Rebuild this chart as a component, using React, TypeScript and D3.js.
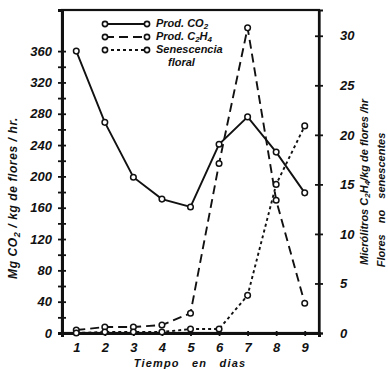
import { useEffect, useRef } from "react";
import * as d3 from "d3";

// days on the x axis
const days = [1, 2, 3, 4, 5, 6, 7, 8, 9];
// Mg CO2 / kg flores / hr (left axis)
const co2 = [360, 269, 199, 171, 161, 241, 276, 231, 179];
// microlitros C2H4 / kg flores / hr (right axis)
const c2h4 = [0.3, 0.6, 0.6, 0.8, 2.0, 17.1, 30.8, 13.4, 3.0];
// flores no senescentes (right axis)
const senescencia = [0, 0.1, 0.1, 0.1, 0.4, 0.4, 3.8, 15.0, 20.9];

const leftTicks = d3.range(0, 361, 20);
const rightTicks = [0, 5, 10, 15, 20, 25, 30];

const FONT = "'Liberation Sans', Arial, sans-serif";

export default function App() {
    const svgRef = useRef<SVGSVGElement>(null);
    const width = 388;
    const height = 370;
    const margin = { top: 10, right: 69, bottom: 37, left: 62 };

    useEffect(() => {
        const svg = d3.select(svgRef.current);
        svg.selectAll("*").remove();

        const x = d3.scaleLinear().domain([0.5, 9.5]).range([margin.left, width - margin.right]);
        const yLeft = d3.scaleLinear().domain([0, 412.5]).range([height - margin.bottom, margin.top]);
        const yRight = d3.scaleLinear().domain([0, 32.6]).range([height - margin.bottom, margin.top]);

        svg.append("rect").attr("width", width).attr("height", height).attr("fill", "#fff");

        const txt = (sel: any) =>
            sel.attr("font-family", FONT).attr("font-weight", "bold").attr("font-style", "italic").attr("fill", "#111");

        // frame
        svg.append("rect")
            .attr("x", margin.left).attr("y", margin.top)
            .attr("width", width - margin.left - margin.right)
            .attr("height", height - margin.top - margin.bottom)
            .attr("fill", "none").attr("stroke", "#111").attr("stroke-width", 2.2);

        // left axis
        const gl = svg.append("g").attr("transform", `translate(${margin.left},0)`)
            .call(d3.axisLeft(yLeft).tickValues(leftTicks).tickSize(4).tickPadding(6)
                .tickFormat((d: any) => (d % 40 === 0 ? String(d) : "")));
        gl.select(".domain").attr("stroke-width", 3).attr("stroke", "#111");
        gl.selectAll(".tick line").attr("x1", -4).attr("x2", 4).attr("stroke-width", 1.8).attr("stroke", "#111");
        gl.selectAll(".tick text").call(txt).attr("font-size", 13);

        // right axis
        const gr = svg.append("g").attr("transform", `translate(${width - margin.right},0)`)
            .call(d3.axisRight(yRight).tickValues(rightTicks).tickSize(4).tickPadding(17));
        gr.select(".domain").attr("stroke-width", 2.2).attr("stroke", "#111");
        gr.selectAll(".tick line").attr("x1", -4).attr("x2", 4).attr("stroke-width", 1.8).attr("stroke", "#111");
        gr.selectAll(".tick text").call(txt).attr("font-size", 13);

        // bottom axis
        const gb = svg.append("g").attr("transform", `translate(0,${height - margin.bottom})`)
            .call(d3.axisBottom(x).tickValues(days).tickSize(4).tickPadding(6).tickFormat(d3.format("d")));
        gb.select(".domain").attr("stroke-width", 3).attr("stroke", "#111");
        gb.selectAll(".tick line").attr("y1", -2).attr("y2", 3).attr("stroke-width", 1.8).attr("stroke", "#111");
        gb.selectAll(".tick text").call(txt).attr("font-size", 13);

        // series
        const series = [
            { values: co2, y: yLeft, dash: null },
            { values: c2h4, y: yRight, dash: "9,5" },
            { values: senescencia, y: yRight, dash: "3,3" },
        ];
        series.forEach(s => {
            const line = d3.line<number>()
                .x((_, i) => x(days[i]))
                .y(d => s.y(d));
            svg.append("path")
                .datum(s.values)
                .attr("fill", "none")
                .attr("stroke", "#111")
                .attr("stroke-width", 1.9)
                .attr("stroke-dasharray", s.dash)
                .attr("d", line);
        });
        series.forEach(s => {
            svg.append("g").selectAll("circle")
                .data(s.values)
                .enter()
                .append("circle")
                .attr("cx", (_, i) => x(days[i]))
                .attr("cy", d => s.y(d))
                .attr("r", 2.8)
                .attr("fill", "#fff")
                .attr("stroke", "#111")
                .attr("stroke-width", 1.5);
        });

        // legend
        const legend = svg.append("g");
        const rows = [
            { dash: null, label: ["Prod. CO", "2", ""] },
            { dash: "9,5", label: ["Prod. C", "2", "H", "4"] },
            { dash: "3,3", label: ["Senescencia"] },
        ];
        rows.forEach((r, i) => {
            const yy = 24 + i * 13;
            legend.append("line")
                .attr("x1", 105).attr("x2", 147).attr("y1", yy).attr("y2", yy)
                .attr("stroke", "#111").attr("stroke-width", 2)
                .attr("stroke-dasharray", r.dash);
            [105, 147].forEach(cx => legend.append("circle")
                .attr("cx", cx).attr("cy", yy).attr("r", 2.6)
                .attr("fill", "#fff").attr("stroke", "#111").attr("stroke-width", 1.6));
            const t = legend.append("text").attr("x", 156).attr("y", yy + 3).attr("font-size", 11).call(txt);
            r.label.forEach((part, k) => {
                if (!part) return;
                const sp = t.append("tspan").text(part);
                if (k % 2 === 1) sp.attr("font-size", 8).attr("dy", 2);
                else if (k > 0) sp.attr("dy", -2);
            });
        });
        legend.append("text").attr("x", 168).attr("y", 66).attr("font-size", 11).call(txt).text("floral");

        // x title
        svg.append("text").attr("x", 190).attr("y", 367).attr("text-anchor", "middle")
            .attr("font-size", 11).attr("letter-spacing", 1.2).attr("word-spacing", 8)
            .call(txt).text("Tiempo en dias");

        // left title
        const lt = svg.append("text")
            .attr("transform", "translate(17,198) rotate(-90)")
            .attr("text-anchor", "middle").attr("font-size", 12).attr("letter-spacing", 0.6)
            .call(txt);
        lt.append("tspan").text("Mg CO");
        lt.append("tspan").text("2").attr("font-size", 9).attr("dy", 3);
        lt.append("tspan").text(" / kg de flores / hr.").attr("dy", -3);

        // right titles
        const rt = svg.append("text")
            .attr("transform", "translate(368,182) rotate(-90)")
            .attr("text-anchor", "middle").attr("font-size", 11)
            .call(txt);
        rt.append("tspan").text("Micrólitros C");
        rt.append("tspan").text("2").attr("font-size", 8).attr("dy", 2);
        rt.append("tspan").text("H").attr("dy", -2);
        rt.append("tspan").text("4").attr("font-size", 8).attr("dy", 2);
        rt.append("tspan").text("/kg de flores /hr").attr("dy", -2);

        svg.append("text")
            .attr("transform", "translate(385,200) rotate(-90)")
            .attr("text-anchor", "middle").attr("font-size", 11).attr("word-spacing", 8)
            .call(txt).text("Flores no senescentes");
    }, []);

    return (
        <div>
            <svg ref={svgRef} width={width} height={height}
                style={{ position: "absolute", left: 0, top: 0 }}></svg>
        </div>
    );
}
